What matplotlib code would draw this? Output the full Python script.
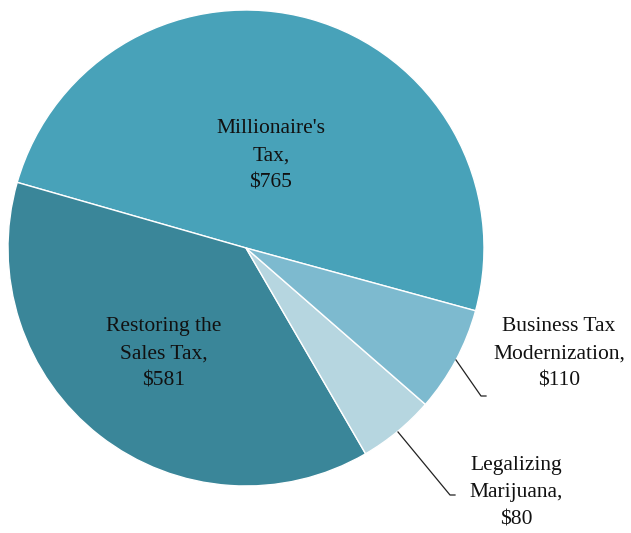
import matplotlib
matplotlib.use("Agg")
import matplotlib.pyplot as plt

categories = ["Millionaire's Tax", "Restoring the Sales Tax", "Legalizing Marijuana", "Business Tax Modernization"]
values = [765, 581, 80, 110]
labels = ["Millionaire's\nTax,\n$765", "Restoring the\nSales Tax,\n$581",
          "Legalizing\nMarijuana,\n$80", "Business Tax\nModernization,\n$110"]
colors = ["#48a2b9", "#3a8699", "#b6d6e0", "#7dbacf"]

W, H = 631, 533
fig = plt.figure(figsize=(W / 100, H / 100), dpi=100)
ax = fig.add_axes([0, 0, 1, 1])

cx, cy, r = 246, H - 248, 238
wedges, _ = ax.pie(values, colors=colors, startangle=-15.3, counterclock=True,
                   center=(cx, cy), radius=r, frame=True,
                   wedgeprops=dict(edgecolor="white", linewidth=1))
ax.set_xlim(0, W)
ax.set_ylim(0, H)
ax.set_aspect("equal")
ax.axis("off")

font = dict(family=["Liberation Serif", "DejaVu Serif"], fontsize=15.5,
            color="#111111", ha="center", va="center", linespacing=1.6)

ax.text(271, H - 156, labels[0], **font)
ax.text(164, H - 354, labels[1], **font)
ax.text(516, H - 493, labels[2], **font)
ax.text(559, H - 354, labels[3], **font)

# leader lines for the two small slices
ax.plot([456, 481, 486], [H - 360, H - 396, H - 396], color="#222222", lw=0.9)
ax.plot([398, 450, 455], [H - 432, H - 495, H - 495], color="#222222", lw=0.9)

fig.savefig("out.png", dpi=100)
